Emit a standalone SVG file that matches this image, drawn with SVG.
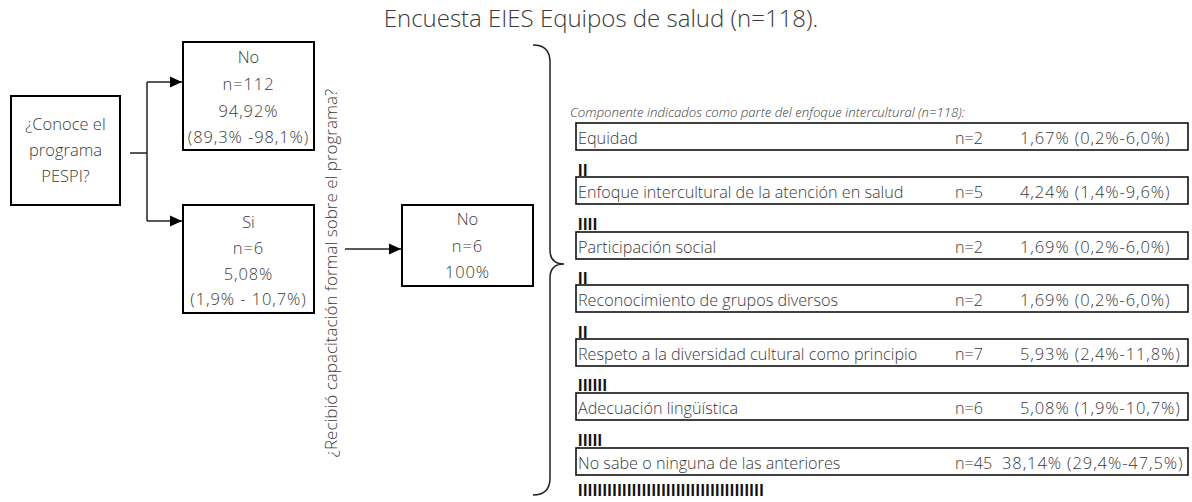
<svg xmlns="http://www.w3.org/2000/svg" width="1192" height="502" viewBox="0 0 1192 502">
<defs>
<marker id="arr" markerUnits="userSpaceOnUse" markerWidth="12" markerHeight="12" refX="12" refY="6" orient="auto"><path d="M0,0.5 L12,6 L0,11.5 z" fill="#000"/></marker>
<style>
.t{font-family:"Open Sans","Liberation Sans",sans-serif;font-weight:300;fill:#3a3a3a}
.n{font-size:16.5px;text-anchor:middle}
.num{letter-spacing:0.9px}
.box{fill:#fff;stroke:#000;stroke-width:2}
.row{fill:#fff;stroke:#111;stroke-width:1.6}
.rl{font-size:16.2px}
.pc{font-size:16.5px;letter-spacing:0.9px}
.bar{font-family:"Liberation Sans",sans-serif;font-weight:bold;font-size:16px;fill:#111;letter-spacing:0.45px}
.c{fill:none;stroke:#222;stroke-width:1.5}
</style>
</defs>
<rect width="1192" height="502" fill="#fff"/>
<text class="t" x="601" y="27" font-size="24" text-anchor="middle">Encuesta EIES Equipos de salud (n=118).</text>

<g id="connectors">
<path class="c" d="M130,153 H147 M147,82 V221"/>
<path class="c" d="M147,82 H182" marker-end="url(#arr)"/>
<path class="c" d="M147,221 H182" marker-end="url(#arr)"/>
<path class="c" d="M345,249 H401" marker-end="url(#arr)"/>
<path class="c" stroke="#444" d="M533,45 Q550,45 550,62 L550,250 Q550,264 564,264 Q550,264 550,278 L550,478 Q550,495 533,495"/>
</g>

<g id="q1">
<rect class="box" x="11" y="96" width="109" height="109"/>
<text class="t n" x="65.5" y="130">¿Conoce el</text>
<text class="t n" x="65.5" y="156">programa</text>
<text class="t n" x="65.5" y="182">PESPI?</text>
</g>
<g id="no1">
<rect class="box" x="183" y="42" width="131" height="108"/>
<text class="t n" x="248.5" y="63">No</text>
<text class="t n num" x="248.5" y="90">n=112</text>
<text class="t n num" x="248.5" y="117">94,92%</text>
<text class="t n num" x="248.5" y="143">(89,3% -98,1%)</text>
</g>
<g id="si1">
<rect class="box" x="183" y="205" width="131" height="108"/>
<text class="t n" x="248.5" y="228">Si</text>
<text class="t n num" x="248.5" y="254">n=6</text>
<text class="t n num" x="248.5" y="280">5,08%</text>
<text class="t n num" x="248.5" y="305">(1,9% - 10,7%)</text>
</g>
<g id="q2">
<text class="t" font-size="17" text-anchor="middle" transform="translate(337,273) rotate(-90)">¿Recibió capacitación formal sobre el programa?</text>
</g>
<g id="no2">
<rect class="box" x="402" y="205" width="131" height="81"/>
<text class="t n" x="467.5" y="225">No</text>
<text class="t n num" x="467.5" y="252">n=6</text>
<text class="t n num" x="467.5" y="278">100%</text>
</g>

<g id="components">
<text class="t" x="570" y="117" font-size="13.2" font-style="italic">Componente indicados como parte del enfoque intercultural (n=118):</text>
<g id="r1">
<rect class="row" x="576" y="123" width="612" height="27"/>
<text class="t rl" x="578" y="144">Equidad</text>
<text class="t rl" x="955" y="144">n=2</text>
<text class="t pc" x="1020" y="144">1,67% (0,2%-6,0%)</text>
<text class="bar" x="578" y="176">II</text>
</g>
<g id="r2">
<rect class="row" x="576" y="177" width="612" height="27"/>
<text class="t rl" x="578" y="198">Enfoque intercultural de la atención en salud</text>
<text class="t rl" x="955" y="198">n=5</text>
<text class="t pc" x="1020" y="198">4,24% (1,4%-9,6%)</text>
<text class="bar" x="578" y="230">IIII</text>
</g>
<g id="r3">
<rect class="row" x="576" y="232" width="612" height="27"/>
<text class="t rl" x="578" y="253">Participación social</text>
<text class="t rl" x="955" y="253">n=2</text>
<text class="t pc" x="1020" y="253">1,69% (0,2%-6,0%)</text>
<text class="bar" x="578" y="284">II</text>
</g>
<g id="r4">
<rect class="row" x="576" y="285" width="612" height="27"/>
<text class="t rl" x="578" y="306">Reconocimiento de grupos diversos</text>
<text class="t rl" x="955" y="306">n=2</text>
<text class="t pc" x="1020" y="306">1,69% (0,2%-6,0%)</text>
<text class="bar" x="578" y="338">II</text>
</g>
<g id="r5">
<rect class="row" x="576" y="339" width="612" height="27"/>
<text class="t rl" x="578" y="360">Respeto a la diversidad cultural como principio</text>
<text class="t rl" x="955" y="360">n=7</text>
<text class="t pc" x="1020" y="360">5,93% (2,4%-11,8%)</text>
<text class="bar" x="578" y="391">IIIIII</text>
</g>
<g id="r6">
<rect class="row" x="576" y="393" width="612" height="27"/>
<text class="t rl" x="578" y="414">Adecuación lingüística</text>
<text class="t rl" x="955" y="414">n=6</text>
<text class="t pc" x="1020" y="414">5,08% (1,9%-10,7%)</text>
<text class="bar" x="578" y="446">IIIII</text>
</g>
<g id="r7">
<rect class="row" x="576" y="448" width="612" height="27"/>
<text class="t rl" x="578" y="469">No sabe o ninguna de las anteriores</text>
<text class="t rl" x="955" y="469">n=45</text>
<text class="t pc" x="1002" y="469">38,14% (29,4%-47,5%)</text>
<text class="bar" x="578" y="496">IIIIIIIIIIIIIIIIIIIIIIIIIIIIIIIIIIIIII</text>
</g>
</g>
</svg>
